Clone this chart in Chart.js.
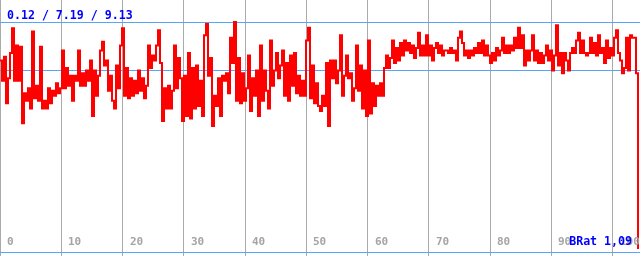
<!DOCTYPE html>
<html>
<head>
<meta charset="utf-8">
<script src="https://cdn.jsdelivr.net/npm/chart.js@4/dist/chart.umd.min.js"></script>
<style>
html,body{margin:0;padding:0;background:#fff;}
#wrap{width:640px;height:256px;}
</style>
</head>
<body>
<div id="wrap"><canvas id="c" width="640" height="256"></canvas></div>
<script>
// min / avg / max shown in the header and drawn as reference lines
const stats = [0.12, 7.19, 9.13];
const statsLabel = '0.12 / 7.19 / 9.13';
const xTicks = [0, 10, 20, 30, 40, 50, 60, 70, 80, 90, 100];
const xTickLabels = ['0', '10', '20', '30', '40', '50', '60', '70', '80', '90', '100'];
const cornerLabel = 'BRat 1,09';
const xMax = 104.455;
const xStep = 0.32643; // spacing between samples along the x axis

const seg1 = [7.6,6.8,7.75,5.9,6.9,7.9,8.88,6.8,8.2,6.8,
  8.15,5.11,6.3,6.0,6.5,5.7,8.75,6.1,6.6,6.0,
  8.15,5.7,6.0,5.7,6.5,5.9,6.4,6.2,6.7,6.3,
  6.5,8.0,6.5,7.3,6.6,7.0,6.0,7.0,6.8,8.0,
  6.6,7.1,6.6,7.2,6.8,7.6,5.4,7.2,6.2,7.0,
  8.0,8.35,7.4,7.6,6.4,7.0,6.0,5.7,7.4,6.5,
  8.2,8.88,6.2,7.3,6.1,6.9,6.2,6.8,6.3,7.2,
  6.4,6.9,6.1,6.6,8.2,7.3,7.8,7.6,8.2,8.8];
const seg2 = [7.5,5.2,6.5,5.7,6.6,5.7,6.4,8.2,6.5,7.7,
  6.9,5.2,7.0,5.4,7.9,5.3,7.3,5.7,7.4,5.8,
  6.8,5.4,8.6,9.05,7.0,7.7,5.0,6.2,5.8,6.9,
  5.4,7.0,6.8,7.1,6.3,8.5,7.5,9.13,6.0,7.7,
  5.9,7.1,6.0,6.5,7.8,5.6,6.9,6.2,7.2,5.4,
  8.2,6.0,7.2,6.4,5.7,8.4,6.6,7.2,7.9,6.9,
  7.4,8.0,6.2,7.5,6.0,7.8,6.6,7.9,6.3,7.0,
  6.2,6.8,6.2,8.4,8.9,6.1,7.4,5.9,6.7,5.8];
const seg3 = [5.6,6.2,5.8,7.5,5.0,7.6,6.9,7.6,6.7,7.2,
  8.6,6.2,7.0,7.8,6.9,7.1,6.0,6.5,8.2,6.4,
  7.4,5.7,7.2,5.4,8.4,5.5,6.7,5.8,6.6,6.2,
  6.7,6.2,7.3,7.8,7.3,7.7,8.4,7.5,8.1,7.6,
  8.3,7.8,8.4,8.0,8.3,7.9,8.2,7.7,8.1,8.7,
  7.8,8.2,7.8,8.6,7.8,8.2,7.6,8.1,8.3,7.9,
  8.2,7.8,8.0,8.0,7.9,8.1,7.9,8.0,7.6,8.5,
  8.75,8.3,7.8,8.0,7.7,8.0,7.8,8.1,7.9,8.3];
const seg4 = [7.9,8.4,7.8,8.2,7.8,7.5,7.9,7.6,8.1,7.8,
  8.0,8.5,7.9,8.2,7.9,8.2,8.0,8.5,8.1,8.9,
  8.1,8.6,7.4,8.0,7.6,8.0,8.6,7.6,8.0,7.5,
  7.9,7.5,7.8,8.2,7.6,8.0,7.2,7.8,9.0,7.4,
  7.9,7.1,7.9,7.6,7.2,7.9,8.1,7.9,8.4,8.7,
  7.9,8.4,7.9,7.8,7.9,8.5,7.9,8.3,7.8,8.6,
  7.9,8.1,7.5,8.4,7.7,8.1,7.8,8.5,8.8,7.9,
  7.6,7.1,7.3,8.5,7.2,8.6,8.5,8.5,7.1,0.12];

const values = seg1.concat(seg2, seg3, seg4);
const points = values.map((v, i) => ({x: i * xStep, y: v}));

// y range chosen so that 0 sits 4px above the bottom and the max line 22px below the top
const yPerPx = stats[2] / 230;
const yMin = -4 * yPerPx;
const yMax = stats[2] + 22 * yPerPx;

const textPlugin = {
  id: 'texts',
  afterDraw(chart) {
    const ctx = chart.ctx;
    const xs = chart.scales.x;
    ctx.save();
    ctx.textBaseline = 'alphabetic';
    ctx.textAlign = 'left';
    ctx.font = 'bold 11px "DejaVu Sans Mono"';
    ctx.fillStyle = '#a4a4a4';
    xTicks.forEach((v, i) => {
      ctx.fillText(xTickLabels[i], Math.round(xs.getPixelForValue(v)) + 7, 245);
    });
    ctx.font = 'bold 11.6px "DejaVu Sans Mono"';
    ctx.fillStyle = '#0000ff';
    ctx.fillText(statsLabel, 7, 19);
    ctx.textAlign = 'right';
    ctx.fillText(cornerLabel, 632, 245);
    ctx.restore();
  }
};

new Chart(document.getElementById('c'), {
  type: 'line',
  data: {
    datasets: [{
      data: points,
      borderColor: '#ff0000',
      borderWidth: 2,
      borderJoinStyle: 'miter',
      borderCapStyle: 'butt',
      pointRadius: 0,
      stepped: true,
      fill: false,
      tension: 0
    }]
  },
  options: {
    responsive: false,
    devicePixelRatio: 1,
    animation: false,
    events: [],
    layout: {padding: 0},
    plugins: {legend: {display: false}, tooltip: {enabled: false}},
    scales: {
      x: {
        type: 'linear',
        min: 0,
        max: xMax,
        afterBuildTicks: s => { s.ticks = xTicks.map(v => ({value: v})); },
        ticks: {display: false},
        grid: {color: '#aaaaaa', lineWidth: 1, drawTicks: false},
        border: {display: false}
      },
      y: {
        type: 'linear',
        min: yMin,
        max: yMax,
        z: 1,
        afterBuildTicks: s => { s.ticks = [0, stats[1], stats[2]].map(v => ({value: v})); },
        ticks: {display: false},
        grid: {color: '#55a5ff', lineWidth: 1, drawTicks: false},
        border: {display: false}
      }
    }
  },
  plugins: [textPlugin]
});
</script>
</body>
</html>
